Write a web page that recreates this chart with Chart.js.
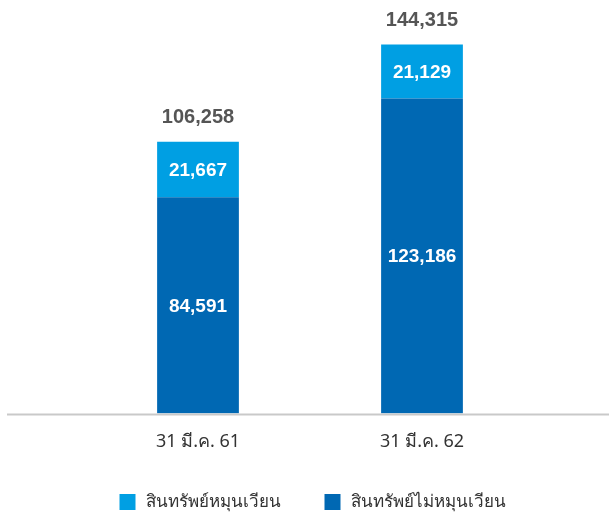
<!DOCTYPE html>
<html>
<head>
<meta charset="utf-8">
<script src="https://cdn.jsdelivr.net/npm/chart.js@4"></script>
<style>
  html, body { margin: 0; padding: 0; background: #fff; }
  #wrap { width: 609px; height: 519px; }
</style>
</head>
<body>
<div id="wrap"><canvas id="assetChart"></canvas></div>
<script>
const periods = ['31 มี.ค. 61', '31 มี.ค. 62'];
const nonCurrentAssets = [84591, 123186];
const currentAssets = [21667, 21129];
const seriesNames = ['สินทรัพย์ไม่หมุนเวียน', 'สินทรัพย์หมุนเวียน'];

const numFont = '"Liberation Sans", Arial, sans-serif';
const thaiFont = '"Noto Sans", sans-serif';
const fmt = v => v.toLocaleString('en-US');

// value labels inside each segment plus the total above each stack,
// and a baseline running the full width of the canvas
const barLabels = {
    id: 'barLabels',
    afterDatasetsDraw(chart) {
        const ctx = chart.ctx;
        ctx.save();
        ctx.textAlign = 'center';
        ctx.textBaseline = 'middle';
        ctx.font = 'bold 19px ' + numFont;
        chart.data.datasets.forEach((ds, di) => {
            chart.getDatasetMeta(di).data.forEach((bar, i) => {
                const mid = (bar.y + bar.base) / 2;
                ctx.fillStyle = '#ffffff';
                ctx.fillText(fmt(ds.data[i]), bar.x, mid + 1);
            });
        });
        ctx.font = 'bold 20px ' + numFont;
        const top = chart.getDatasetMeta(chart.data.datasets.length - 1).data;
        top.forEach((bar, i) => {
            const total = nonCurrentAssets[i] + currentAssets[i];
            ctx.fillStyle = '#555555';
            ctx.fillText(fmt(total), bar.x, bar.y - 24);
        });
        const yBase = chart.chartArea.bottom + 1;
        ctx.strokeStyle = '#c9c9c9';
        ctx.lineWidth = 2;
        ctx.beginPath();
        ctx.moveTo(7, yBase);
        ctx.lineTo(chart.width, yBase);
        ctx.stroke();
        ctx.restore();
    }
};

// single-row legend at the foot, top stack segment listed first
const footLegend = {
    id: 'footLegend',
    afterDraw(chart) {
        const ctx = chart.ctx;
        const items = chart.data.datasets.slice().reverse();
        const box = 16, gap = 10, itemGap = 44;
        ctx.save();
        ctx.font = '17px ' + thaiFont;
        ctx.textBaseline = 'middle';
        ctx.textAlign = 'left';
        const widths = items.map(d => ctx.measureText(d.label).width);
        const total = widths.reduce((a, w) => a + box + gap + w, 0) + itemGap * (items.length - 1);
        let x = chart.width / 2 + 8 - total / 2;
        const y = chart.height - 17;
        items.forEach((d, i) => {
            ctx.fillStyle = d.backgroundColor;
            ctx.fillRect(x, y - box / 2, box, box);
            ctx.fillStyle = '#333333';
            ctx.fillText(d.label, x + box + gap, y);
            x += box + gap + widths[i] + itemGap;
        });
        ctx.restore();
    }
};

// invisible side axes that just reserve horizontal room for the plot
const spacer = w => ({
    display: true,
    grid: { display: false },
    border: { display: false },
    ticks: { display: false },
    afterFit(scale) { scale.width = w; }
});

new Chart(document.getElementById('assetChart'), {
    type: 'bar',
    data: {
        labels: periods,
        datasets: [
            {
                label: seriesNames[0],
                data: nonCurrentAssets,
                backgroundColor: '#0068b3',
                barPercentage: 0.73,
                categoryPercentage: 0.5
            },
            {
                label: seriesNames[1],
                data: currentAssets,
                backgroundColor: '#009fe3',
                barPercentage: 0.73,
                categoryPercentage: 0.5
            }
        ]
    },
    options: {
        responsive: true,
        maintainAspectRatio: false,
        animation: false,
        layout: { padding: { left: 0, right: 0, top: 30, bottom: 56 } },
        plugins: {
            legend: { display: false },
            tooltip: { enabled: false }
        },
        scales: {
            x: {
                stacked: true,
                grid: { display: false },
                border: { display: false },
                ticks: {
                    color: '#333333',
                    padding: 10,
                    font: { size: 18, family: thaiFont }
                }
            },
            y: Object.assign(spacer(86), {
                stacked: true,
                min: 0,
                max: 150000
            }),
            yRight: Object.assign(spacer(75), {
                position: 'right',
                min: 0,
                max: 1
            })
        }
    },
    plugins: [barLabels, footLegend]
});
</script>
</body>
</html>
